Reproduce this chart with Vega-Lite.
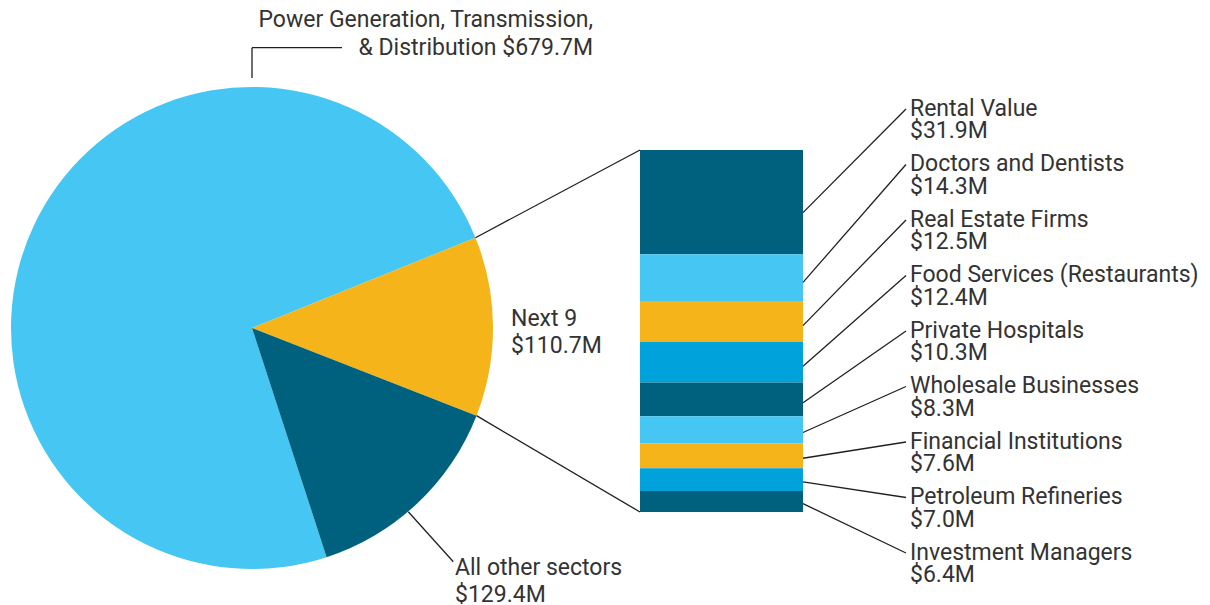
{
  "$schema": "https://vega.github.io/schema/vega-lite/v6.json",
  "width": 1210,
  "height": 605,
  "padding": 0,
  "autosize": {"type": "none"},
  "background": "white",
  "config": {
    "view": {"stroke": null},
    "text": {"font": "Roboto", "fontSize": 23, "color": "#333333"},
    "rule": {"color": "#231F20", "strokeWidth": 1.3}
  },
  "datasets": {
    "sectors": [
      {"sector": "Power Generation, Transmission, & Distribution", "value": 679.7},
      {"sector": "Next 9", "value": 110.7},
      {"sector": "All other sectors", "value": 129.4}
    ],
    "next9": [
      {"name": "Rental Value", "value": 31.9},
      {"name": "Doctors and Dentists", "value": 14.3},
      {"name": "Real Estate Firms", "value": 12.5},
      {"name": "Food Services (Restaurants)", "value": 12.4},
      {"name": "Private Hospitals", "value": 10.3},
      {"name": "Wholesale Businesses", "value": 8.3},
      {"name": "Financial Institutions", "value": 7.6},
      {"name": "Petroleum Refineries", "value": 7.0},
      {"name": "Investment Managers", "value": 6.4}
    ]
  },
  "resolve": {"scale": {"color": "independent"}},
  "layer": [
    {
      "data": {"name": "sectors"},
      "mark": {"type": "arc", "radius": 241},
      "encoding": {
        "theta": {"field": "value", "type": "quantitative", "stack": true, "scale": {"range": [2.8269, 9.1101], "nice": false}},
        "order": {"field": "sector", "type": "nominal", "sort": "descending"},
        "color": {"field": "sector", "type": "nominal", "legend": null,
          "scale": {"domain": ["Power Generation, Transmission, & Distribution", "Next 9", "All other sectors"], "range": ["#45C6F3", "#F5B41A", "#00617F"]}},
        "x": {"datum": 252, "type": "quantitative", "scale": {"domain": [0, 1210], "nice": false, "zero": false}, "axis": null},
        "y": {"datum": 56.267, "type": "quantitative", "scale": {"domain": [-28.439, 156.57], "nice": false, "zero": false}, "axis": null}
      }
    },
    {
      "data": {"name": "next9"},
      "transform": [
        {"window": [{"op": "row_number", "as": "rank"}], "sort": [{"field": "value", "order": "descending"}]},
        {"calculate": "(datum.rank - 1) % 4", "as": "tone"},
        {"stack": "value", "groupby": [], "sort": [{"field": "value", "order": "ascending"}], "as": ["v0", "v1"]}
      ],
      "mark": {"type": "rect"},
      "encoding": {
        "x": {"datum": 640, "type": "quantitative", "scale": {"domain": [0, 1210], "nice": false, "zero": false}, "axis": null},
        "x2": {"datum": 803},
        "y": {"field": "v0", "type": "quantitative", "scale": {"domain": [-28.439, 156.57], "nice": false, "zero": false}, "axis": null},
        "y2": {"field": "v1"},
        "color": {"field": "tone", "type": "nominal", "legend": null,
          "scale": {"domain": [0, 1, 2, 3], "range": ["#00617F", "#45C6F3", "#F5B41A", "#00A2DB"]}}
      }
    },
    {
      "data": {"name": "next9"},
      "transform": [
        {"window": [{"op": "row_number", "as": "rank"}], "sort": [{"field": "value", "order": "descending"}]},
        {"stack": "value", "groupby": [], "sort": [{"field": "value", "order": "ascending"}], "as": ["v0", "v1"]},
        {"calculate": "datum.v0 + 0.4 * (datum.v1 - datum.v0)", "as": "ys"},
        {"calculate": "123.24 - 16.972 * (datum.rank - 1)", "as": "ye"}
      ],
      "mark": {"type": "rule"},
      "encoding": {
        "x": {"datum": 803, "type": "quantitative", "scale": {"domain": [0, 1210], "nice": false, "zero": false}, "axis": null},
        "x2": {"datum": 906},
        "y": {"field": "ys", "type": "quantitative", "scale": {"domain": [-28.439, 156.57], "nice": false, "zero": false}, "axis": null},
        "y2": {"field": "ye"}
      }
    },
    {
      "data": {"name": "next9"},
      "transform": [
        {"window": [{"op": "row_number", "as": "rank"}], "sort": [{"field": "value", "order": "descending"}]},
        {"calculate": "123.24 - 16.972 * (datum.rank - 1)", "as": "ye"},
        {"calculate": "[datum.name, '$' + format(datum.value, '.1f') + 'M']", "as": "lines"}
      ],
      "mark": {"type": "text", "align": "left", "baseline": "alphabetic", "dy": 7, "lineHeight": 22.3},
      "encoding": {
        "x": {"datum": 910, "type": "quantitative", "scale": {"domain": [0, 1210], "nice": false, "zero": false}, "axis": null},
        "y": {"field": "ye", "type": "quantitative", "scale": {"domain": [-28.439, 156.57], "nice": false, "zero": false}, "axis": null},
        "text": {"field": "lines"}
      }
    },
    {
      "data": {"values": [{}]},
      "mark": {"type": "rule"},
      "encoding": {
        "x": {"datum": 475.45, "type": "quantitative", "scale": {"domain": [0, 1210], "nice": false, "zero": false}, "axis": null},
        "y": {"datum": 83.874, "type": "quantitative", "scale": {"domain": [-28.439, 156.57], "nice": false, "zero": false}, "axis": null},
        "x2": {"datum": 640},
        "y2": {"datum": 110.7}
      }
    },
    {
      "data": {"values": [{}]},
      "mark": {"type": "rule"},
      "encoding": {
        "x": {"datum": 476.5, "type": "quantitative", "scale": {"domain": [0, 1210], "nice": false, "zero": false}, "axis": null},
        "y": {"datum": 29.464, "type": "quantitative", "scale": {"domain": [-28.439, 156.57], "nice": false, "zero": false}, "axis": null},
        "x2": {"datum": 640},
        "y2": {"datum": 0}
      }
    },
    {
      "data": {"values": [{}]},
      "mark": {"type": "rule"},
      "encoding": {
        "x": {"datum": 252, "type": "quantitative", "scale": {"domain": [0, 1210], "nice": false, "zero": false}, "axis": null},
        "x2": {"datum": 342},
        "y": {"datum": 141.98, "type": "quantitative", "scale": {"domain": [-28.439, 156.57], "nice": false, "zero": false}, "axis": null}
      }
    },
    {
      "data": {"values": [{}]},
      "mark": {"type": "rule"},
      "encoding": {
        "x": {"datum": 252, "type": "quantitative", "scale": {"domain": [0, 1210], "nice": false, "zero": false}, "axis": null},
        "y": {"datum": 141.98, "type": "quantitative", "scale": {"domain": [-28.439, 156.57], "nice": false, "zero": false}, "axis": null},
        "y2": {"datum": 132.72}
      }
    },
    {
      "data": {"values": [{}]},
      "mark": {"type": "rule"},
      "encoding": {
        "x": {"datum": 408.3, "type": "quantitative", "scale": {"domain": [0, 1210], "nice": false, "zero": false}, "axis": null},
        "y": {"datum": 0.092, "type": "quantitative", "scale": {"domain": [-28.439, 156.57], "nice": false, "zero": false}, "axis": null},
        "x2": {"datum": 453.3},
        "y2": {"datum": -15.198}
      }
    },
    {
      "data": {"name": "sectors"},
      "transform": [
        {"filter": "datum.sector === 'Power Generation, Transmission, & Distribution'"},
        {"calculate": "['Power Generation, Transmission,', '& Distribution $' + format(datum.value, '.1f') + 'M']", "as": "lines"}
      ],
      "mark": {"type": "text", "align": "right", "baseline": "alphabetic", "lineHeight": 28},
      "encoding": {
        "x": {"datum": 593, "type": "quantitative", "scale": {"domain": [0, 1210], "nice": false, "zero": false}, "axis": null},
        "y": {"datum": 148.22, "type": "quantitative", "scale": {"domain": [-28.439, 156.57], "nice": false, "zero": false}, "axis": null},
        "text": {"field": "lines"}
      }
    },
    {
      "data": {"name": "sectors"},
      "transform": [
        {"filter": "datum.sector === 'Next 9'"},
        {"calculate": "[datum.sector, '$' + format(datum.value, '.1f') + 'M']", "as": "lines"}
      ],
      "mark": {"type": "text", "align": "left", "baseline": "alphabetic", "lineHeight": 27.3},
      "encoding": {
        "x": {"datum": 511, "type": "quantitative", "scale": {"domain": [0, 1210], "nice": false, "zero": false}, "axis": null},
        "y": {"datum": 56.879, "type": "quantitative", "scale": {"domain": [-28.439, 156.57], "nice": false, "zero": false}, "axis": null},
        "text": {"field": "lines"}
      }
    },
    {
      "data": {"name": "sectors"},
      "transform": [
        {"filter": "datum.sector === 'All other sectors'"},
        {"calculate": "[datum.sector, '$' + format(datum.value, '.1f') + 'M']", "as": "lines"}
      ],
      "mark": {"type": "text", "align": "left", "baseline": "alphabetic", "lineHeight": 27},
      "encoding": {
        "x": {"datum": 455, "type": "quantitative", "scale": {"domain": [0, 1210], "nice": false, "zero": false}, "axis": null},
        "y": {"datum": -19.265, "type": "quantitative", "scale": {"domain": [-28.439, 156.57], "nice": false, "zero": false}, "axis": null},
        "text": {"field": "lines"}
      }
    }
  ]
}
